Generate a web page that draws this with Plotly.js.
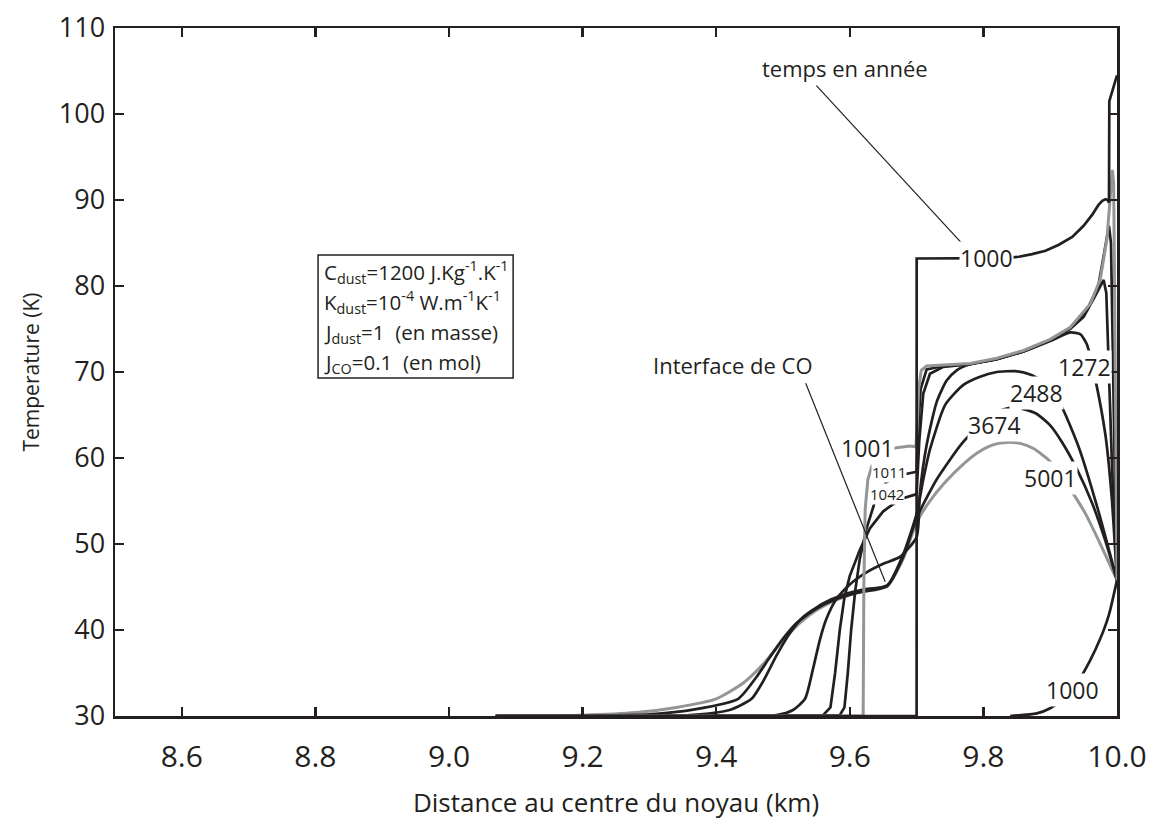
<!DOCTYPE html>
<html>
<head>
<meta charset="utf-8">
<script src="https://cdn.plot.ly/plotly-3.0.1.min.js"></script>
<style>body{margin:0;background:#fff}#chart{width:1149px;height:832px}</style>
</head>
<body>
<div id="chart"></div>
<script>
// ---- data (distance km, temperature K) ----
const x_1000a = [9.07, 9.70, 9.7001, 9.80, 9.83, 9.853, 9.873, 9.893, 9.913, 9.933, 9.95, 9.963, 9.972, 9.978, 9.983, 9.986, 9.988, 9.9885, 10.0];
const t_1000a = [30, 30, 83.2, 83.2, 83.25, 83.4, 83.7, 84.1, 84.8, 85.7, 87.0, 88.3, 89.4, 89.9, 90.1, 90.0, 89.7, 101.5, 104.5];

const x_1000b = [9.84, 9.88, 9.90, 9.92, 9.94, 9.96, 9.975, 9.988, 10.0];
const t_1000b = [30, 30.3, 30.9, 32, 33.8, 36.5, 39, 41.8, 45.8];

const x_1001 = [9.07, 9.62, 9.621, 9.623, 9.627, 9.635, 9.65, 9.67, 9.69, 9.699, 9.701, 9.703, 9.707, 9.715, 9.74, 9.78, 9.82, 9.86, 9.90, 9.93, 9.96, 9.975, 9.985, 9.99, 9.993, 9.995, 9.997, 9.999, 10.0];
const t_1001 = [30, 30, 45, 54, 57.5, 59.6, 60.7, 61.2, 61.4, 61.3, 64, 68, 70.2, 70.7, 70.8, 71.0, 71.6, 72.5, 73.8, 75.2, 77.9, 80.8, 85.5, 91, 93.5, 92, 75, 55, 45.8];

const x_1011 = [9.07, 9.585, 9.592, 9.597, 9.602, 9.608, 9.615, 9.625, 9.64, 9.655, 9.675, 9.70, 9.702, 9.706, 9.715, 9.74, 9.78, 9.82, 9.86, 9.90, 9.93, 9.955, 9.972, 9.982, 9.988, 9.991, 9.994, 9.997, 10.0];
const t_1011 = [30, 30.1, 31, 35, 40, 44.5, 48.3, 51.8, 55.5, 57.2, 58.0, 58.4, 63, 68, 70.3, 70.7, 70.9, 71.5, 72.4, 73.7, 75.1, 77.2, 80.0, 84.2, 87.0, 85, 70, 57, 45.8];

const x_1042 = [9.07, 9.56, 9.571, 9.578, 9.585, 9.592, 9.60, 9.615, 9.63, 9.65, 9.675, 9.70, 9.704, 9.71, 9.72, 9.74, 9.78, 9.82, 9.86, 9.90, 9.93, 9.95, 9.965, 9.975, 9.98, 9.984, 9.988, 9.993, 10.0];
const t_1042 = [30, 30.1, 31, 35, 40, 43.8, 46.3, 49.3, 51.8, 53.8, 55.2, 55.8, 62, 67.5, 69.8, 70.6, 70.9, 71.5, 72.4, 73.7, 75.0, 76.4, 78.5, 80.0, 80.7, 79.2, 70, 58, 45.8];

const x_1272 = [9.07, 9.49, 9.515, 9.533, 9.545, 9.555, 9.565, 9.58, 9.60, 9.625, 9.65, 9.675, 9.70, 9.705, 9.715, 9.73, 9.745, 9.76, 9.78, 9.82, 9.86, 9.90, 9.93, 9.945, 9.955, 9.968, 9.983, 9.992, 10.0];
const t_1272 = [30, 30.1, 30.7, 32, 35.5, 38.8, 41.3, 43.6, 45.3, 46.7, 47.7, 48.5, 50.8, 56, 61.5, 66.5, 69, 70.2, 70.9, 71.5, 72.4, 73.6, 74.6, 74.4, 73.2, 69.0, 62.5, 55.5, 45.8];

const x_2488 = [9.07, 9.36, 9.42, 9.453, 9.47, 9.49, 9.51, 9.53, 9.56, 9.59, 9.62, 9.656, 9.68, 9.70, 9.71, 9.72, 9.743, 9.77, 9.793, 9.82, 9.848, 9.87, 9.89, 9.915, 9.943, 9.973, 10.0];
const t_2488 = [30, 30.1, 30.7, 32, 34, 37, 39.6, 41.5, 43.1, 44.1, 44.7, 45.2, 48.8, 53.5, 57.5, 61, 66.2, 68.5, 69.4, 70.0, 70.1, 69.7, 68.8, 66.3, 61.2, 53.6, 45.8];

const x_3674 = [9.07, 9.30, 9.37, 9.433, 9.46, 9.48, 9.50, 9.52, 9.55, 9.58, 9.61, 9.656, 9.68, 9.70, 9.73, 9.768, 9.80, 9.828, 9.848, 9.878, 9.90, 9.918, 9.94, 9.963, 9.982, 10.0];
const t_3674 = [30, 30.2, 30.8, 32, 34.5, 36.8, 39, 40.8, 42.5, 43.6, 44.3, 45.1, 48.5, 53, 57.5, 61.7, 64.2, 65.6, 65.9, 65.2, 63.8, 61.8, 58.7, 54.7, 50.5, 45.8];

const x_5001 = [9.07, 9.2, 9.28, 9.34, 9.40, 9.44, 9.47, 9.50, 9.525, 9.55, 9.58, 9.61, 9.635, 9.656, 9.68, 9.70, 9.72, 9.743, 9.77, 9.793, 9.813, 9.833, 9.855, 9.875, 9.90, 9.918, 9.935, 9.953, 9.975, 10.0];
const t_5001 = [30, 30.1, 30.4, 31, 32, 33.8, 36, 38.8, 40.8, 42.3, 43.5, 44.3, 44.8, 45.1, 48.3, 52.5, 55, 57.2, 59.3, 60.7, 61.5, 61.8, 61.7, 61.1, 59.6, 57.8, 55.8, 53.5, 50.0, 45.8];

const xTickVals = [8.6, 8.8, 9.0, 9.2, 9.4, 9.6, 9.8, 10.0];
const xTickText = ['8.6', '8.8', '9.0', '9.2', '9.4', '9.6', '9.8', '10.0'];
const yTickVals = [30, 40, 50, 60, 70, 80, 90, 100, 110];

const curveLabels = ['1000', '1001', '1011', '1042', '1272', '2488', '3674', '5001', '1000'];
const labelX = [9.805, 9.626, 9.659, 9.656, 9.952, 9.879, 9.816, 9.900, 9.934];
const labelY = [83.2, 61.2, 58.4, 55.8, 70.6, 67.6, 63.8, 57.7, 33.0];
const labelSize = [23, 23, 15, 15, 23, 23, 23, 23, 23];

const BLACK = '#231f20', GREY = '#939598';
const FONT = 'Open Sans, Noto Sans, sans-serif';

function tr(x, y, color, shape) {
  return {x: x, y: y, type: 'scatter', mode: 'lines', hoverinfo: 'skip',
    line: {color: color, width: color === GREY ? 3 : 2.7, shape: shape || 'spline', smoothing: 0.6}};
}
const traces = [
  tr(x_1000b, t_1000b, BLACK),
  tr(x_5001, t_5001, GREY),
  tr(x_3674, t_3674, BLACK),
  tr(x_2488, t_2488, BLACK),
  tr(x_1272, t_1272, BLACK),
  tr(x_1042, t_1042, BLACK, 'linear'),
  tr(x_1011, t_1011, BLACK, 'linear'),
  tr(x_1001, t_1001, GREY, 'linear'),
  tr(x_1000a, t_1000a, BLACK, 'linear')
];

const annotations = curveLabels.map((s, i) => ({
  x: labelX[i], y: labelY[i], text: s, showarrow: false, bgcolor: '#ffffff', borderpad: 0,
  font: {family: FONT, size: labelSize[i], color: BLACK}
}));
annotations.push({x: 9.593, y: 105.3, text: 'temps en année', showarrow: false, font: {family: FONT, size: 22, color: BLACK}});
annotations.push({x: 9.425, y: 70.8, text: 'Interface de CO', showarrow: false, font: {family: FONT, size: 22, color: BLACK}});
const boxLines = [
  'C<sub>dust</sub>=1200 J.Kg<sup>-1</sup>.K<sup>-1</sup>',
  'K<sub>dust</sub>=10<sup>-4</sup> W.m<sup>-1</sup>K<sup>-1</sup>',
  'J<sub>dust</sub>=1  (en masse)',
  'J<sub>CO</sub>=0.1  (en mol)'
];
const boxY = [81.6, 78.1, 74.5, 71.1];
boxLines.forEach((s, i) => annotations.push({x: 8.81, y: boxY[i], xanchor: 'left', text: s, showarrow: false,
  font: {family: FONT, size: 20.5, color: BLACK}}));

const shapes = [
  {type: 'rect', xref: 'x', yref: 'y', x0: 8.804, x1: 9.096, y0: 69.3, y1: 83.6, line: {color: BLACK, width: 1.5}},
  {type: 'line', xref: 'x', yref: 'y', x0: 9.55, y0: 103.3, x1: 9.772, y1: 84.6, line: {color: BLACK, width: 1.2}},
  {type: 'line', xref: 'x', yref: 'y', x0: 9.534, y0: 68.7, x1: 9.653, y1: 45.6, line: {color: BLACK, width: 1.2}}
];

const axisCommon = {showgrid: false, zeroline: false, showline: true, linecolor: BLACK, linewidth: 2.5,
  mirror: 'ticks', ticks: 'inside', ticklen: 9, tickwidth: 2.5, tickcolor: BLACK};

const layout = {
  width: 1149, height: 832, paper_bgcolor: '#fff', plot_bgcolor: '#fff', showlegend: false,
  margin: {l: 115, r: 32, t: 28, b: 116},
  xaxis: Object.assign({}, axisCommon, {range: [8.5, 10.0], tickvals: xTickVals, ticktext: xTickText,
    tickfont: {family: 'Liberation Sans Narrow, Open Sans, sans-serif', size: 30, color: BLACK}, ticklabelstandoff: 12,
    title: {text: 'Distance au centre du noyau (km)', font: {family: FONT, size: 26, color: BLACK}, standoff: 20}}),
  yaxis: Object.assign({}, axisCommon, {range: [30, 110], tickvals: yTickVals,
    tickfont: {family: FONT, size: 27, color: BLACK}, ticklabelstandoff: 2,
    title: {text: 'Temperature (K)', font: {family: FONT, size: 21, color: BLACK}, standoff: 14}}),
  annotations: annotations, shapes: shapes
};

Plotly.newPlot('chart', traces, layout, {displayModeBar: false, staticPlot: true});
</script>
</body>
</html>
